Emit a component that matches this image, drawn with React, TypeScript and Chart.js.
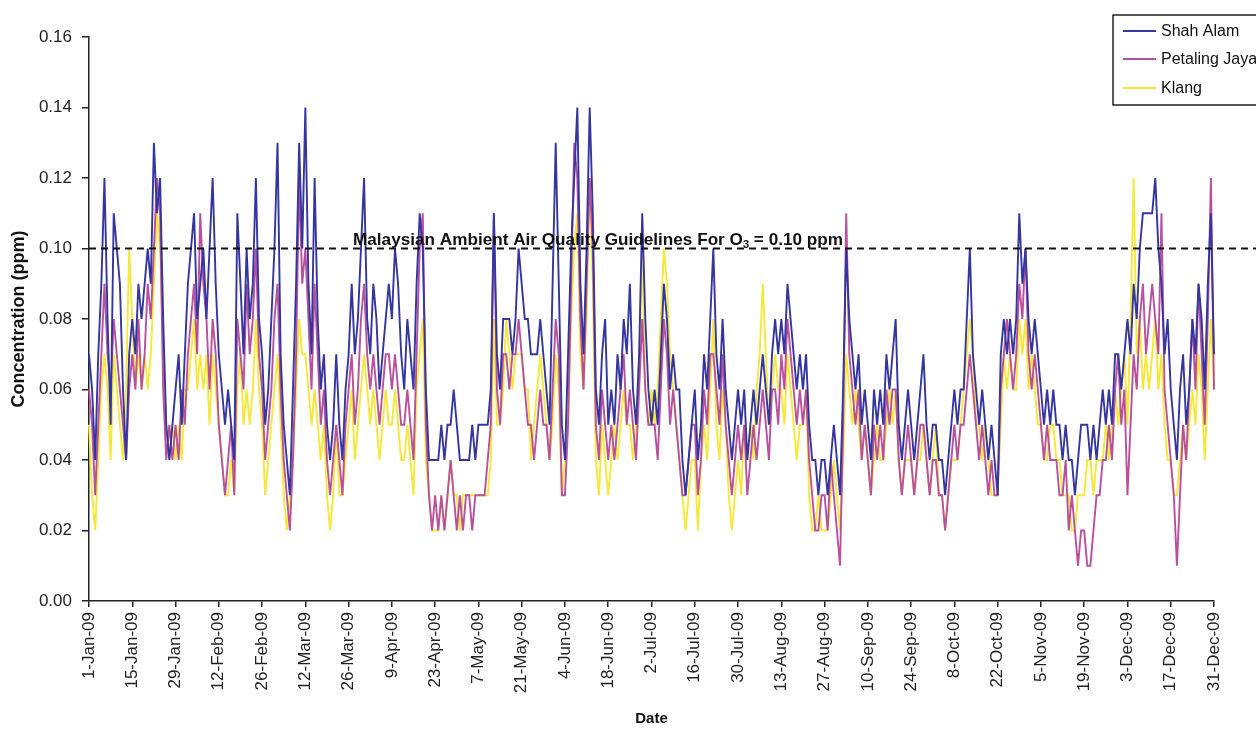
import React, { useEffect, useRef } from "react";
import { Chart, registerables } from "chart.js";

Chart.register(...registerables);

const SERIES_NAMES = ["Shah Alam", "Petaling Jaya", "Klang"];
const SERIES_COLORS = ["#3535a0", "#b8509e", "#f6e838"];
const GUIDELINE = 0.1;
const GUIDELINE_TEXT_A = "Malaysian Ambient Air Quality Guidelines For O";
const GUIDELINE_TEXT_SUB = "3";
const GUIDELINE_TEXT_B = " = 0.10 ppm";

const X_TICK_LABELS = [
  "1-Jan-09", "15-Jan-09", "29-Jan-09", "12-Feb-09", "26-Feb-09", "12-Mar-09", "26-Mar-09",
  "9-Apr-09", "23-Apr-09", "7-May-09", "21-May-09", "4-Jun-09", "18-Jun-09", "2-Jul-09",
  "16-Jul-09", "30-Jul-09", "13-Aug-09", "27-Aug-09", "10-Sep-09", "24-Sep-09", "8-Oct-09",
  "22-Oct-09", "5-Nov-09", "19-Nov-09", "3-Dec-09", "17-Dec-09", "31-Dec-09",
];
const TICK_EVERY = 14;
const MONTHS = ["Jan", "Feb", "Mar", "Apr", "May", "Jun", "Jul", "Aug", "Sep", "Oct", "Nov", "Dec"];
const DAYS = Array.from({ length: 365 }, (_, i) => {
  const d = new Date(2009, 0, 1 + i);
  return `${d.getDate()}-${MONTHS[d.getMonth()]}-09`;
});

const SHAH_ALAM = [
  0.07,0.06,0.04,0.07,0.09,0.12,0.08,0.05,0.11,0.10,0.09,0.06,0.04,0.07,
  0.08,0.07,0.09,0.08,0.09,0.10,0.09,0.13,0.11,0.12,0.08,0.05,0.04,0.05,
  0.06,0.07,0.05,0.07,0.09,0.10,0.11,0.08,0.09,0.10,0.08,0.10,0.12,0.09,
  0.07,0.06,0.05,0.06,0.05,0.04,0.11,0.09,0.07,0.10,0.08,0.09,0.12,0.08,
  0.07,0.05,0.06,0.08,0.10,0.13,0.07,0.05,0.04,0.03,0.06,0.09,0.13,0.10,
  0.14,0.09,0.07,0.12,0.08,0.06,0.07,0.05,0.04,0.05,0.07,0.05,0.04,0.06,
  0.07,0.09,0.07,0.08,0.10,0.12,0.08,0.07,0.09,0.08,0.06,0.07,0.08,0.09,
  0.08,0.10,0.09,0.07,0.06,0.08,0.07,0.06,0.09,0.11,0.10,0.06,0.04,0.04,
  0.04,0.04,0.05,0.04,0.05,0.05,0.06,0.05,0.04,0.04,0.04,0.04,0.05,0.04,
  0.05,0.05,0.05,0.05,0.06,0.11,0.07,0.06,0.08,0.08,0.08,0.07,0.08,0.10,
  0.09,0.08,0.08,0.07,0.07,0.07,0.08,0.07,0.06,0.05,0.09,0.13,0.09,0.05,
  0.04,0.07,0.10,0.12,0.14,0.09,0.07,0.10,0.14,0.11,0.06,0.05,0.07,0.08,
  0.05,0.06,0.05,0.07,0.06,0.08,0.07,0.09,0.06,0.05,0.07,0.11,0.08,0.06,
  0.05,0.06,0.05,0.07,0.09,0.08,0.06,0.07,0.06,0.06,0.04,0.03,0.04,0.05,
  0.06,0.04,0.05,0.07,0.06,0.08,0.10,0.07,0.06,0.08,0.06,0.05,0.04,0.05,
  0.06,0.05,0.06,0.04,0.05,0.06,0.05,0.06,0.07,0.06,0.05,0.07,0.08,0.07,
  0.08,0.07,0.09,0.08,0.07,0.06,0.07,0.06,0.07,0.05,0.04,0.04,0.03,0.04,
  0.04,0.03,0.04,0.05,0.04,0.03,0.06,0.10,0.08,0.07,0.06,0.07,0.05,0.06,
  0.05,0.04,0.06,0.05,0.06,0.05,0.07,0.06,0.07,0.08,0.05,0.04,0.05,0.06,
  0.05,0.04,0.05,0.06,0.07,0.05,0.04,0.05,0.05,0.04,0.04,0.03,0.04,0.05,
  0.06,0.05,0.06,0.06,0.08,0.10,0.07,0.06,0.05,0.06,0.05,0.04,0.05,0.04,
  0.03,0.07,0.08,0.07,0.08,0.07,0.08,0.11,0.09,0.10,0.08,0.07,0.08,0.07,
  0.06,0.05,0.06,0.05,0.06,0.05,0.05,0.04,0.05,0.04,0.04,0.03,0.04,0.05,
  0.05,0.05,0.04,0.05,0.04,0.05,0.06,0.05,0.06,0.05,0.07,0.07,0.06,0.07,
  0.08,0.07,0.09,0.08,0.10,0.11,0.11,0.11,0.11,0.12,0.10,0.09,0.07,0.08,
  0.06,0.05,0.04,0.06,0.07,0.05,0.06,0.08,0.07,0.09,0.08,0.06,0.09,0.11,
  0.07,
];

const PETALING_JAYA = [
  0.06,0.05,0.03,0.05,0.07,0.09,0.07,0.06,0.08,0.07,0.06,0.05,0.04,0.06,
  0.07,0.06,0.08,0.06,0.07,0.09,0.08,0.10,0.12,0.11,0.06,0.04,0.05,0.04,
  0.05,0.04,0.06,0.05,0.07,0.08,0.09,0.07,0.11,0.09,0.08,0.06,0.08,0.07,
  0.05,0.04,0.03,0.04,0.05,0.03,0.08,0.07,0.06,0.09,0.07,0.08,0.10,0.07,
  0.06,0.04,0.05,0.06,0.08,0.09,0.06,0.04,0.03,0.02,0.04,0.07,0.12,0.09,
  0.10,0.08,0.06,0.09,0.07,0.05,0.06,0.04,0.03,0.04,0.05,0.04,0.03,0.05,
  0.06,0.07,0.05,0.06,0.08,0.09,0.07,0.06,0.07,0.06,0.05,0.06,0.07,0.07,
  0.06,0.07,0.06,0.05,0.05,0.06,0.05,0.04,0.07,0.10,0.11,0.05,0.03,0.02,
  0.03,0.02,0.03,0.02,0.03,0.04,0.03,0.02,0.03,0.02,0.03,0.03,0.02,0.03,
  0.03,0.03,0.03,0.04,0.05,0.11,0.06,0.05,0.07,0.07,0.06,0.07,0.07,0.08,
  0.07,0.06,0.05,0.05,0.04,0.05,0.06,0.05,0.05,0.04,0.06,0.08,0.07,0.03,
  0.03,0.05,0.09,0.13,0.12,0.08,0.06,0.09,0.12,0.10,0.05,0.04,0.06,0.05,
  0.04,0.05,0.04,0.05,0.06,0.07,0.05,0.06,0.05,0.04,0.06,0.08,0.06,0.05,
  0.05,0.05,0.04,0.06,0.08,0.07,0.05,0.06,0.05,0.04,0.03,0.03,0.04,0.05,
  0.05,0.03,0.04,0.06,0.05,0.07,0.07,0.06,0.05,0.07,0.05,0.04,0.03,0.04,
  0.05,0.04,0.05,0.03,0.04,0.05,0.04,0.05,0.06,0.05,0.04,0.06,0.06,0.05,
  0.07,0.06,0.08,0.07,0.06,0.05,0.06,0.05,0.06,0.04,0.03,0.02,0.02,0.03,
  0.03,0.02,0.04,0.03,0.02,0.01,0.05,0.11,0.07,0.06,0.05,0.06,0.04,0.05,
  0.04,0.03,0.05,0.04,0.05,0.04,0.06,0.05,0.06,0.06,0.04,0.03,0.04,0.05,
  0.04,0.03,0.04,0.05,0.05,0.04,0.03,0.04,0.04,0.03,0.03,0.02,0.03,0.04,
  0.05,0.04,0.05,0.05,0.06,0.07,0.06,0.05,0.04,0.05,0.04,0.03,0.04,0.03,
  0.03,0.06,0.07,0.08,0.07,0.06,0.07,0.09,0.08,0.10,0.07,0.06,0.07,0.06,
  0.05,0.04,0.05,0.04,0.04,0.04,0.03,0.03,0.04,0.02,0.03,0.02,0.01,0.02,
  0.02,0.01,0.01,0.02,0.03,0.03,0.04,0.04,0.05,0.04,0.06,0.07,0.05,0.06,
  0.03,0.05,0.07,0.06,0.08,0.09,0.07,0.08,0.09,0.08,0.07,0.11,0.06,0.05,
  0.04,0.03,0.01,0.03,0.05,0.04,0.06,0.08,0.06,0.09,0.07,0.05,0.08,0.12,
  0.06,
];

const KLANG = [
  0.05,0.03,0.02,0.04,0.06,0.07,0.06,0.04,0.07,0.06,0.05,0.04,0.06,0.10,
  0.08,0.06,0.07,0.06,0.07,0.06,0.07,0.09,0.11,0.10,0.07,0.05,0.04,0.05,
  0.04,0.05,0.04,0.06,0.06,0.07,0.08,0.06,0.07,0.06,0.07,0.05,0.07,0.06,
  0.05,0.04,0.03,0.03,0.04,0.03,0.06,0.07,0.05,0.06,0.05,0.06,0.08,0.06,
  0.05,0.03,0.04,0.05,0.06,0.07,0.05,0.03,0.02,0.03,0.04,0.06,0.08,0.07,
  0.07,0.06,0.05,0.06,0.05,0.04,0.05,0.03,0.02,0.03,0.05,0.03,0.03,0.04,
  0.05,0.06,0.04,0.05,0.06,0.07,0.06,0.05,0.06,0.05,0.04,0.05,0.06,0.05,
  0.05,0.06,0.05,0.04,0.04,0.05,0.04,0.03,0.06,0.07,0.08,0.04,0.03,0.02,
  0.02,0.02,0.03,0.02,0.03,0.04,0.03,0.03,0.02,0.03,0.03,0.03,0.03,0.03,
  0.03,0.03,0.03,0.03,0.04,0.08,0.05,0.05,0.06,0.08,0.07,0.06,0.07,0.07,
  0.07,0.06,0.06,0.04,0.05,0.06,0.07,0.06,0.05,0.04,0.05,0.07,0.06,0.03,
  0.04,0.05,0.08,0.10,0.11,0.07,0.06,0.08,0.12,0.09,0.04,0.03,0.05,0.04,
  0.03,0.04,0.05,0.04,0.05,0.06,0.05,0.05,0.04,0.05,0.07,0.10,0.06,0.05,
  0.06,0.05,0.06,0.08,0.10,0.09,0.07,0.06,0.05,0.04,0.03,0.02,0.03,0.04,
  0.04,0.02,0.04,0.05,0.04,0.06,0.08,0.05,0.04,0.06,0.05,0.03,0.02,0.03,
  0.04,0.03,0.05,0.04,0.05,0.04,0.06,0.07,0.09,0.07,0.05,0.06,0.07,0.06,
  0.06,0.05,0.07,0.06,0.05,0.04,0.05,0.05,0.06,0.03,0.02,0.02,0.03,0.02,
  0.02,0.02,0.03,0.04,0.03,0.02,0.04,0.07,0.06,0.05,0.06,0.05,0.04,0.05,
  0.04,0.03,0.04,0.05,0.04,0.04,0.05,0.06,0.05,0.06,0.04,0.03,0.04,0.04,
  0.04,0.03,0.04,0.04,0.05,0.04,0.03,0.04,0.05,0.03,0.03,0.02,0.03,0.04,
  0.04,0.04,0.05,0.06,0.07,0.08,0.07,0.05,0.05,0.04,0.05,0.04,0.03,0.03,
  0.03,0.05,0.07,0.06,0.07,0.06,0.06,0.08,0.07,0.08,0.06,0.07,0.06,0.05,
  0.05,0.04,0.04,0.05,0.05,0.04,0.04,0.03,0.03,0.03,0.02,0.02,0.03,0.03,
  0.03,0.04,0.04,0.03,0.04,0.04,0.04,0.05,0.04,0.05,0.06,0.05,0.06,0.07,
  0.05,0.08,0.12,0.07,0.08,0.06,0.07,0.06,0.07,0.08,0.06,0.07,0.05,0.04,
  0.04,0.03,0.03,0.04,0.05,0.04,0.05,0.06,0.05,0.07,0.06,0.04,0.06,0.08,
  0.06,
];

const SERIES = [SHAH_ALAM, PETALING_JAYA, KLANG];

const FONT = '"Liberation Sans", Arial, sans-serif';

const overlayPlugin = {
  id: "overlay",
  afterDatasetsDraw(chart: any) {
    const { ctx, chartArea, scales } = chart;
    const yy = scales.y.getPixelForValue(GUIDELINE);
    ctx.save();
    // guideline
    ctx.strokeStyle = "#111";
    ctx.lineWidth = 2;
    ctx.setLineDash([7, 5]);
    ctx.beginPath();
    ctx.moveTo(chartArea.left, yy);
    ctx.lineTo(chart.width, yy);
    ctx.stroke();
    ctx.setLineDash([]);

    // guideline label (condensed bold)
    const x0 = 353;
    const targetW = 490;
    const baseline = yy - 4;
    ctx.fillStyle = "#111";
    ctx.textBaseline = "alphabetic";
    ctx.textAlign = "left";
    const mainFont = `bold 17px ${FONT}`;
    const subFont = `bold 11px ${FONT}`;
    ctx.font = mainFont;
    const wA = ctx.measureText(GUIDELINE_TEXT_A).width;
    const wB = ctx.measureText(GUIDELINE_TEXT_B).width;
    ctx.font = subFont;
    const wS = ctx.measureText(GUIDELINE_TEXT_SUB).width;
    const sx = targetW / (wA + wB + wS);
    ctx.translate(x0, baseline);
    ctx.scale(sx, 1);
    ctx.font = mainFont;
    ctx.fillText(GUIDELINE_TEXT_A, 0, 0);
    ctx.font = subFont;
    ctx.fillText(GUIDELINE_TEXT_SUB, wA, 3);
    ctx.font = mainFont;
    ctx.fillText(GUIDELINE_TEXT_B, wA + wS, 0);
    ctx.restore();

    // legend
    ctx.save();
    ctx.strokeStyle = "#222";
    ctx.lineWidth = 1.5;
    ctx.strokeRect(1113, 15, 160, 90);
    ctx.font = `16px ${FONT}`;
    ctx.textBaseline = "middle";
    ctx.fillStyle = "#111";
    const rows = [31, 59, 88];
    SERIES_NAMES.forEach((name, i) => {
      ctx.strokeStyle = SERIES_COLORS[i];
      ctx.lineWidth = 2;
      ctx.beginPath();
      ctx.moveTo(1123, rows[i]);
      ctx.lineTo(1156, rows[i]);
      ctx.stroke();
      ctx.fillText(name, 1161, rows[i] + 1);
    });
    ctx.restore();
  },
};

export default function App() {
  const ref = useRef<HTMLCanvasElement>(null);
  useEffect(() => {
    document.body.style.margin = "0";
    const canvas = ref.current;
    if (!canvas) return;
    const chart = new Chart(canvas, {
      type: "line",
      data: {
        labels: DAYS,
        datasets: SERIES.map((data, i) => ({
          label: SERIES_NAMES[i],
          data,
          borderColor: SERIES_COLORS[i],
          backgroundColor: SERIES_COLORS[i],
          borderWidth: 1.9,
          pointRadius: 0,
          tension: 0,
          fill: false,
        })),
      },
      options: {
        responsive: false,
        animation: false,
        events: [],
        layout: { padding: { left: 0, top: 37, right: 42, bottom: 0 } },
        plugins: {
          legend: { display: false },
          tooltip: { enabled: false },
        },
        scales: {
          x: {
            type: "category",
            offset: false,
            afterFit: (s: any) => {
              s.height = 130;
            },
            grid: {
              drawOnChartArea: false,
              drawTicks: true,
              tickLength: 6,
              color: "#222",
              lineWidth: 1.5,
            },
            border: { color: "#222", width: 1.5 },
            ticks: {
              autoSkip: false,
              minRotation: 90,
              maxRotation: 90,
              padding: 5,
              color: "#222",
              font: { family: FONT, size: 17 },
              callback: (_v: any, idx: number) =>
                idx % TICK_EVERY === 0 ? X_TICK_LABELS[idx / TICK_EVERY] : null,
            },
            title: {
              display: true,
              text: "Date",
              color: "#111",
              font: { family: FONT, size: 15, weight: "bold" },
              padding: { top: 4, bottom: 3 },
            },
          },
          y: {
            min: 0,
            max: 0.16,
            afterFit: (s: any) => {
              s.width = 89;
            },
            grid: {
              drawOnChartArea: false,
              drawTicks: true,
              tickLength: 7,
              color: "#222",
              lineWidth: 1.5,
            },
            border: { color: "#222", width: 1.5 },
            ticks: {
              stepSize: 0.02,
              padding: 10,
              color: "#222",
              font: { family: FONT, size: 17 },
              callback: (v: any) => Number(v).toFixed(2),
            },
            title: {
              display: true,
              text: "Concentration (ppm)",
              color: "#111",
              font: { family: FONT, size: 18, weight: "bold" },
              padding: { top: 8, bottom: 4 },
            },
          },
        },
      },
      plugins: [overlayPlugin],
    });
    return () => chart.destroy();
  }, []);
  return (
    <div style={{ width: 1256, height: 731, background: "#fff" }}>
      <canvas ref={ref} width={1256} height={731} style={{ display: "block" }} />
    </div>
  );
}
